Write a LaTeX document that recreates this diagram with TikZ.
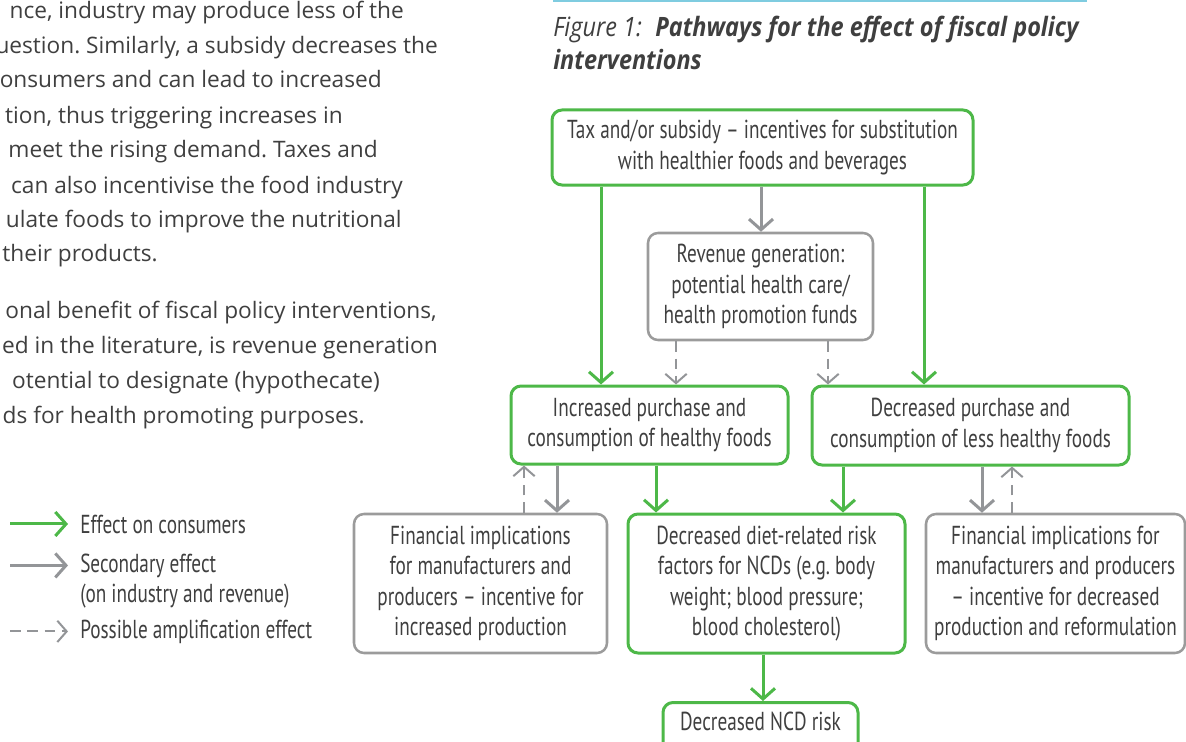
\documentclass[tikz,border=0pt]{standalone}
\usepackage{fontspec}
\usetikzlibrary{arrows.meta}
\newfontfamily\boxfont[FakeStretch=0.74]{PT Sans}
\newfontfamily\bodyfont{Open Sans}
\newfontfamily\capfont[FakeStretch=0.88]{Open Sans}
\definecolor{leafgreen}{HTML}{4DB848}
\definecolor{arrowgray}{HTML}{939598}
\definecolor{boxgray}{HTML}{9B9B9B}
\definecolor{inkgray}{HTML}{3F3F3F}
\definecolor{rulecyan}{HTML}{7FCCE0}
\frenchspacing
\def\px{0.75pt}
\tikzset{
  greenbox/.style={draw=leafgreen, line width=2.25pt, rounded corners=7.5pt,
    align=center, text=inkgray, font=\boxfont\fontsize{19.5pt}{22.9pt}\selectfont},
  graybox/.style={greenbox, draw=boxgray, line width=1.9pt},
  conarrow/.style={draw=leafgreen, line width=2.25pt,
    -{Straight Barb[length=8pt, width=18pt]}},
  secarrow/.style={conarrow, draw=arrowgray},
  amparrow/.style={draw=arrowgray, line width=1.5pt, dash pattern=on 8pt off 5pt,
    -{Straight Barb[length=7pt, width=16pt]}},
  legend/.style={inner sep=0pt, anchor=base west, text=inkgray,
    font=\boxfont\fontsize{19.5pt}{22.9pt}\selectfont},
  bodyline/.style={inner sep=0pt, anchor=base east, text=inkgray,
    font=\bodyfont\fontsize{17pt}{20pt}\selectfont}
}

\begin{document}
\begin{tikzpicture}[x=0.75pt, y=-0.75pt]
  \useasboundingbox (0,0) rectangle (1186,742);
  \clip (0,0) rectangle (1186,742);

  % Running text of the page
  \foreach \yy/\xx/\txt [count=\i] in {
      19/404/{nce, industry may produce less of the},
      54/438/{uestion. Similarly, a subsidy decreases the},
      88/382/{onsumers and can lead to increased},
      123/343/{tion, thus triggering increases in},
      157/378/{meet the rising demand. Taxes and},
      193/403/{can also incentivise the food industry},
      227/402/{ulate foods to improve the nutritional},
      261/158/{their products.},
      318/437/{onal benefit of fiscal policy interventions,},
      353/438/{ed in the literature, is revenue generation},
      388/380/{otential to designate (hypothecate)},
      423/365/{ds for health promoting purposes.}}
    \node[bodyline] (body\i) at (\xx,\yy) {\txt};

  % Caption
  \draw[rulecyan, line width=2.25pt] (553,1) -- (1087,1);
  \node[inner sep=0pt, anchor=base west, text=inkgray,
    font=\capfont\fontsize{20pt}{24pt}\selectfont] (cap1) at (553,37)
    {\itshape Figure 1:\enspace{}\bfseries Pathways for the effect of fiscal policy};
  \node[inner sep=0pt, anchor=base west, text=inkgray,
    font=\capfont\fontsize{20pt}{24pt}\selectfont\bfseries\itshape] (cap2) at (553,70)
    {interventions};

  % Boxes
  \node[greenbox, minimum width=421*\px, minimum height=75*\px] (tax) at (762.5,147.5)
    {Tax and/or subsidy – incentives for substitution\\with healthier foods and beverages};
  \node[graybox, minimum width=225*\px, minimum height=107*\px] (rev) at (760.5,286.5)
    {Revenue generation:\\potential health care/\\health promotion funds};
  \node[greenbox, minimum width=277*\px, minimum height=78*\px] (inc) at (649.5,425)
    {Increased purchase and\\consumption of healthy foods};
  \node[greenbox, minimum width=317*\px, minimum height=79*\px] (dec) at (970.5,425.5)
    {Decreased purchase and\\consumption of less healthy foods};
  \node[graybox, minimum width=253*\px, minimum height=139*\px] (finl) at (480.5,583.5)
    {Financial implications\\for manufacturers and\\producers – incentive for\\increased production};
  \node[greenbox, minimum width=277*\px, minimum height=139*\px] (diet) at (766.5,583.5)
    {Decreased diet-related risk\\factors for NCDs (e.g. body\\weight; blood pressure;\\blood cholesterol)};
  \node[graybox, minimum width=259*\px, minimum height=139*\px] (finr) at (1055.5,583.5)
    {Financial implications for\\manufacturers and producers\\– incentive for decreased\\production and reformulation};
  \node[greenbox, anchor=north, minimum width=195*\px, inner ysep=10*\px,
    text height=18*\px, text depth=15*\px] (ncd) at (760.5,701) {Decreased NCD risk};

  % Arrow columns
  \coordinate (c1) at (601,0);
  \coordinate (c2) at (761,0);
  \coordinate (c3) at (676,0);
  \coordinate (c4) at (828,0);
  \coordinate (c5) at (924,0);
  \coordinate (c6) at (557,0);
  \coordinate (c7) at (524,0);
  \coordinate (c8) at (656,0);
  \coordinate (c9) at (843,0);
  \coordinate (c10) at (982,0);
  \coordinate (c11) at (1012,0);
  \coordinate (c12) at (763,0);

  % Effects on consumers
  \draw[conarrow] (tax.south -| c1) -- (inc.north -| c1);
  \draw[conarrow] (tax.south -| c5) -- (dec.north -| c5);
  \draw[conarrow] (inc.south -| c8) -- (diet.north -| c8);
  \draw[conarrow] (dec.south -| c9) -- (diet.north -| c9);
  \draw[conarrow] (diet.south -| c12) -- (ncd.north -| c12);

  % Secondary effects
  \draw[secarrow] (tax.south -| c2) -- (rev.north -| c2);
  \draw[secarrow] (inc.south -| c6) -- (finl.north -| c6);
  \draw[secarrow] (dec.south -| c10) -- (finr.north -| c10);

  % Amplification
  \draw[amparrow] (rev.south -| c3) -- (inc.north -| c3);
  \draw[amparrow] (rev.south -| c4) -- (dec.north -| c4);
  \draw[amparrow] (finl.north -| c7) -- (inc.south -| c7);
  \draw[amparrow] (finr.north -| c11) -- (dec.south -| c11);

  % Legend
  \node[legend] (lcon) at (80,533) {Effect on consumers};
  \node[legend] (lsec) at (80,572) {Secondary effect};
  \node[legend] (lsec2) at (80,602) {(on industry and revenue)};
  \node[legend] (lamp) at (80,638) {Possible amplification effect};
  \draw[conarrow] ([xshift=-70*\px]lcon.west) -- ([xshift=-12*\px]lcon.west);
  \draw[secarrow] ([xshift=-70*\px]lsec.west) -- ([xshift=-12*\px]lsec.west);
  \draw[amparrow] ([xshift=-70*\px]lamp.west) -- ([xshift=-12*\px]lamp.west);
\end{tikzpicture}
\end{document}
